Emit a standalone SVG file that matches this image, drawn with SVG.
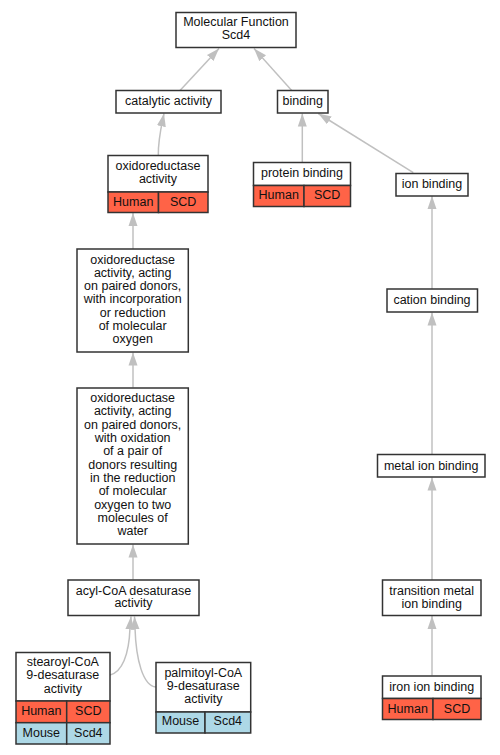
<svg xmlns="http://www.w3.org/2000/svg" width="500" height="755" viewBox="0 0 500 755">
<style>
.box{fill:#fff;stroke:#333;stroke-width:1.5}
.hum{fill:#ff6347;stroke:#333;stroke-width:1.5}
.mou{fill:#add8e6;stroke:#333;stroke-width:1.5}
text{font-family:"Liberation Sans",Arial,sans-serif;font-size:12.5px;fill:#111;text-anchor:middle}
.e{fill:none;stroke:#c0c0c0;stroke-width:1.5}
</style>
<defs>
<marker id="ah" markerUnits="userSpaceOnUse" markerWidth="14" markerHeight="10" viewBox="0 0 14 10" refX="13" refY="5" orient="auto">
<polygon points="0,0.5 13,5 0,9.5" fill="#c0c0c0"/>
</marker>
</defs>
<rect width="500" height="755" fill="#fff"/>
<g id="connectors">
<path class="e" d="M180,90.5 L219,48.5" marker-end="url(#ah)"/>
<path class="e" d="M291.7,90.5 L254,48.5" marker-end="url(#ah)"/>
<path class="e" d="M158.3,155.5 C158,140 161,128 164,113.5" marker-end="url(#ah)"/>
<path class="e" d="M302.3,162.5 L302.3,113.5" marker-end="url(#ah)"/>
<path class="e" d="M413.3,172.7 L318.3,113.5" marker-end="url(#ah)"/>
<path class="e" d="M432,289 L432,196" marker-end="url(#ah)"/>
<path class="e" d="M432,454.5 L432,312.5" marker-end="url(#ah)"/>
<path class="e" d="M432,580 L432,477.5" marker-end="url(#ah)"/>
<path class="e" d="M432,675.5 L432,616" marker-end="url(#ah)"/>
<path class="e" d="M133,249 L133,213" marker-end="url(#ah)"/>
<path class="e" d="M133,387.5 L133,352.5" marker-end="url(#ah)"/>
<path class="e" d="M133,579.5 L133,544.5" marker-end="url(#ah)"/>
<path class="e" d="M110,675 C122,672 129,655 130,628 L131,616.5" marker-end="url(#ah)"/>
<path class="e" d="M156,687 C143,686 136,660 135,628 L134.5,616.5" marker-end="url(#ah)"/>
</g>
<g id="root">
<rect class="box" x="176" y="12.5" width="120" height="35"/>
<text x="236" y="26">Molecular Function</text>
<text x="236" y="39">Scd4</text>
</g>
<g id="catalytic">
<rect class="box" x="116" y="90.5" width="105" height="22.5"/>
<text x="168.5" y="105">catalytic activity</text>
</g>
<g id="binding">
<rect class="box" x="277.5" y="90.5" width="50.5" height="22.5"/>
<text x="302.7" y="105">binding</text>
</g>
<g id="oxidoreductase">
<rect class="box" x="108" y="155.5" width="100" height="36.5"/>
<rect class="hum" x="108" y="192" width="50.5" height="20.5"/>
<rect class="hum" x="158.5" y="192" width="49.5" height="20.5"/>
<text x="158" y="170">oxidoreductase</text>
<text x="158" y="183">activity</text>
<text x="133.2" y="205.5">Human</text>
<text x="183.2" y="205.5">SCD</text>
</g>
<g id="protein-binding">
<rect class="box" x="253.5" y="162.5" width="97" height="23"/>
<rect class="hum" x="253.5" y="185.5" width="50.5" height="21"/>
<rect class="hum" x="304" y="185.5" width="46.5" height="21"/>
<text x="302" y="177">protein binding</text>
<text x="278.7" y="199">Human</text>
<text x="327.2" y="199">SCD</text>
</g>
<g id="ion-binding">
<rect class="box" x="396" y="173.5" width="72" height="22.5"/>
<text x="432" y="187.5">ion binding</text>
</g>
<g id="cation-binding">
<rect class="box" x="387" y="289" width="90.5" height="23"/>
<text x="432" y="303.5">cation binding</text>
</g>
<g id="metal-ion-binding">
<rect class="box" x="377.5" y="454.5" width="107.5" height="22.5"/>
<text x="431.2" y="469.5">metal ion binding</text>
</g>
<g id="transition-metal">
<rect class="box" x="382.5" y="580" width="98.5" height="35.5"/>
<text x="431.7" y="594.5">transition metal</text>
<text x="431.7" y="607.5">ion binding</text>
</g>
<g id="iron-ion-binding">
<rect class="box" x="382.5" y="676" width="98.5" height="22.5"/>
<rect class="hum" x="382.5" y="698.5" width="50.5" height="21"/>
<rect class="hum" x="433" y="698.5" width="48" height="21"/>
<text x="431.7" y="690.5">iron ion binding</text>
<text x="407.7" y="712.5">Human</text>
<text x="457" y="712.5">SCD</text>
</g>
<g id="oxygen-incorporation">
<rect class="box" x="77" y="249" width="111.3" height="103"/>
<text x="132.7" y="263.5">oxidoreductase</text>
<text x="132.7" y="276.8">activity, acting</text>
<text x="132.7" y="290.1">on paired donors,</text>
<text x="132.7" y="303.4">with incorporation</text>
<text x="132.7" y="316.7">or reduction</text>
<text x="132.7" y="330">of molecular</text>
<text x="132.7" y="343.3">oxygen</text>
</g>
<g id="oxygen-to-water">
<rect class="box" x="77" y="388" width="111.3" height="156"/>
<text x="132.7" y="402">oxidoreductase</text>
<text x="132.7" y="415.3">activity, acting</text>
<text x="132.7" y="428.7">on paired donors,</text>
<text x="132.7" y="442">with oxidation</text>
<text x="132.7" y="455.3">of a pair of</text>
<text x="132.7" y="468.7">donors resulting</text>
<text x="132.7" y="482">in the reduction</text>
<text x="132.7" y="495.3">of molecular</text>
<text x="132.7" y="508.7">oxygen to two</text>
<text x="132.7" y="522">molecules of</text>
<text x="132.7" y="535.3">water</text>
</g>
<g id="acyl-coa">
<rect class="box" x="68" y="580" width="131" height="35.5"/>
<text x="133.5" y="594.5">acyl-CoA desaturase</text>
<text x="133.5" y="607.3">activity</text>
</g>
<g id="stearoyl">
<rect class="box" x="16" y="652.5" width="94" height="48.5"/>
<rect class="hum" x="16" y="701" width="50.7" height="21.7"/>
<rect class="hum" x="66.7" y="701" width="43.3" height="21.7"/>
<rect class="mou" x="16" y="722.7" width="50.7" height="21.3"/>
<rect class="mou" x="66.7" y="722.7" width="43.3" height="21.3"/>
<text x="62.8" y="666">stearoyl-CoA</text>
<text x="62.8" y="679.3">9-desaturase</text>
<text x="62.8" y="692.6">activity</text>
<text x="41.3" y="715.3">Human</text>
<text x="88.3" y="715.3">SCD</text>
<text x="41.3" y="736.6">Mouse</text>
<text x="88.3" y="736.6">Scd4</text>
</g>
<g id="palmitoyl">
<rect class="box" x="156" y="662.5" width="94.7" height="49.5"/>
<rect class="mou" x="156" y="712" width="49" height="21"/>
<rect class="mou" x="205" y="712" width="45.7" height="21"/>
<text x="203.3" y="677">palmitoyl-CoA</text>
<text x="203.3" y="690">9-desaturase</text>
<text x="203.3" y="703">activity</text>
<text x="180.5" y="725.3">Mouse</text>
<text x="227.8" y="725.3">Scd4</text>
</g>
</svg>
